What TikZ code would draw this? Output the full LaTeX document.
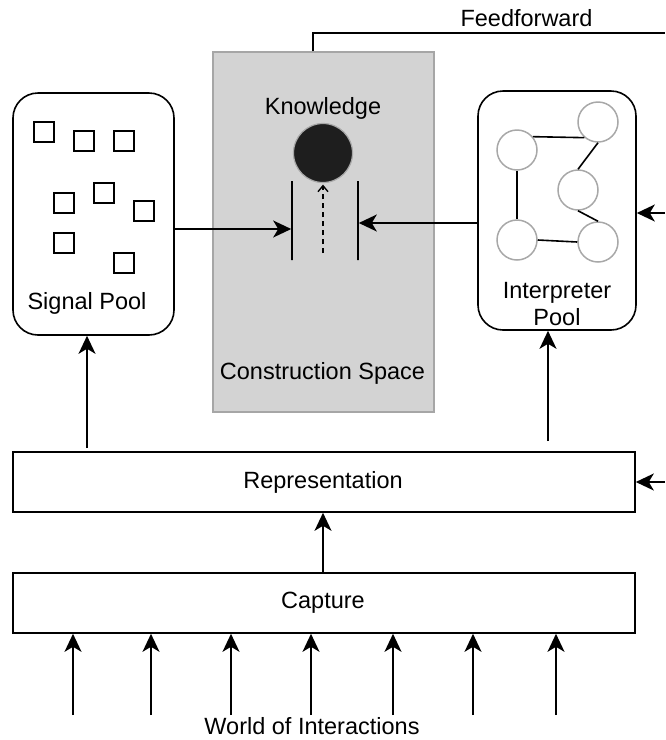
\documentclass[tikz,border=0pt]{standalone}
\usepackage{fontspec}
\setmainfont{Liberation Sans}
\usetikzlibrary{arrows.meta,calc}
\definecolor{spacefill}{HTML}{D3D3D3}
\definecolor{spaceline}{HTML}{A6A6A6}
\definecolor{knowfill}{HTML}{1E1E1E}
\definecolor{nodeline}{HTML}{A8A8A8}
\tikzset{
  txt/.style={font=\fontsize{23.5}{27}\selectfont, inner sep=0pt, align=center},
  blk/.style={line width=1.6pt},
  box/.style={blk, draw, rectangle, inner sep=0pt},
  pool/.style={box, rounded corners=25pt},
  sig/.style={box, minimum size=20pt},
  interp/.style={circle, draw=nodeline, fill=white, line width=1.5pt, minimum size=40pt, inner sep=0pt},
  bar/.style={blk, draw, rectangle, minimum width=0pt, minimum height=79pt, inner sep=0pt},
  arr/.style={blk, arrows={-Stealth[length=18pt,width=17pt,inset=5pt]}},
}
\begin{document}
\begin{tikzpicture}[x=1pt, y=-1pt]
\useasboundingbox (0,0) rectangle (665,740);

% construction space
\node[draw=spaceline, fill=spacefill, line width=1.4pt, rectangle,
      minimum width=221pt, minimum height=360pt, inner sep=0pt] (cs) at (323.5,232) {};
\node[txt] (cslabel) at (322.5,373) {Construction Space};
\node[txt] (klabel) at (323,108) {Knowledge};
\node[circle, draw=nodeline, fill=knowfill, line width=1.2pt, minimum size=59pt, inner sep=0pt] (know) at (323,153) {};
\node[bar] (lbar) at (292,220.5) {};
\node[bar] (rbar) at (358,220.5) {};
\coordinate (kbase) at (323,253);
\draw[blk, dash pattern=on 5pt off 4pt, arrows={-Straight Barb[length=6pt,width=10pt,line width=1.4pt]}, shorten >=1.5pt]
  (kbase) -- (know.south);

% feedforward
\coordinate (ffend) at (665,33);
\draw[blk] ([xshift=-10.5pt]cs.north) |- (ffend);
\node[txt] (fflabel) at (526.5,18) {Feedforward};

% signal pool
\node[pool, minimum width=161pt, minimum height=242pt] (sp) at (93.5,214) {};
\node[txt] (splabel) at (87,303) {Signal Pool};
\node[sig] (s1) at (44,132) {};
\node[sig] (s2) at (84,141) {};
\node[sig] (s3) at (124,141) {};
\node[sig] (s4) at (64,203) {};
\node[sig] (s5) at (104,193) {};
\node[sig] (s6) at (144,211) {};
\node[sig] (s7) at (64,243) {};
\node[sig] (s8) at (124,263) {};

% interpreter pool
\node[pool, minimum width=158pt, minimum height=239pt] (ip) at (557,210.5) {};
\node[txt] (iplabel) at (557,304) {Interpreter\\Pool};
\node[interp] (na) at (517,150) {};
\node[interp] (nb) at (598,122) {};
\node[interp] (nc) at (578,190) {};
\node[interp] (nd) at (517,240) {};
\node[interp] (ne) at (598,242) {};
\draw[blk] (na.40) -- (nb.229);
\draw[blk] (nb.south) -- (nc.north);
\draw[blk] (nc.south) -- (ne.north);
\draw[blk] (na.south) -- (nd.north);
\draw[blk] (nd.east) -- (ne.west);

% pools into the construction space
\draw[arr] ([yshift=-15pt]sp.east) -- ([yshift=-15pt]sp.east -| lbar.west);
\draw[arr] ([yshift=-12.5pt]ip.west) -- ([yshift=-12.5pt]ip.west -| rbar.east);

% representation and capture
\node[box, minimum width=622pt, minimum height=60pt] (rep) at (324,482) {};
\node[txt] (replabel) at (323,482) {Representation};
\node[box, minimum width=622pt, minimum height=60pt] (cap) at (324,603) {};
\node[txt] (caplabel) at (323,603) {Capture};
\draw[arr] (cap.north -| 323,0) -- (rep.south -| 323,0);

\coordinate (spfeed) at (87,448);
\coordinate (ipfeed) at (548,441);
\draw[arr] (spfeed) -- (spfeed |- sp.south);
\draw[arr] (ipfeed) -- (ipfeed |- ip.south);

\coordinate (ipin) at (665,213);
\coordinate (repin) at (665,482);
\draw[arr] (ipin) -- (ipin -| ip.east);
\draw[arr] (repin) -- (rep.east);

% world of interactions
\foreach \i/\x in {1/73,2/151,3/231,4/311,5/393,6/473,7/556} {
  \coordinate (w\i) at (\x,715);
  \draw[arr] (w\i) -- (w\i |- cap.south);
}
\node[txt] (world) at (312,726) {World of Interactions};
\end{tikzpicture}
\end{document}
